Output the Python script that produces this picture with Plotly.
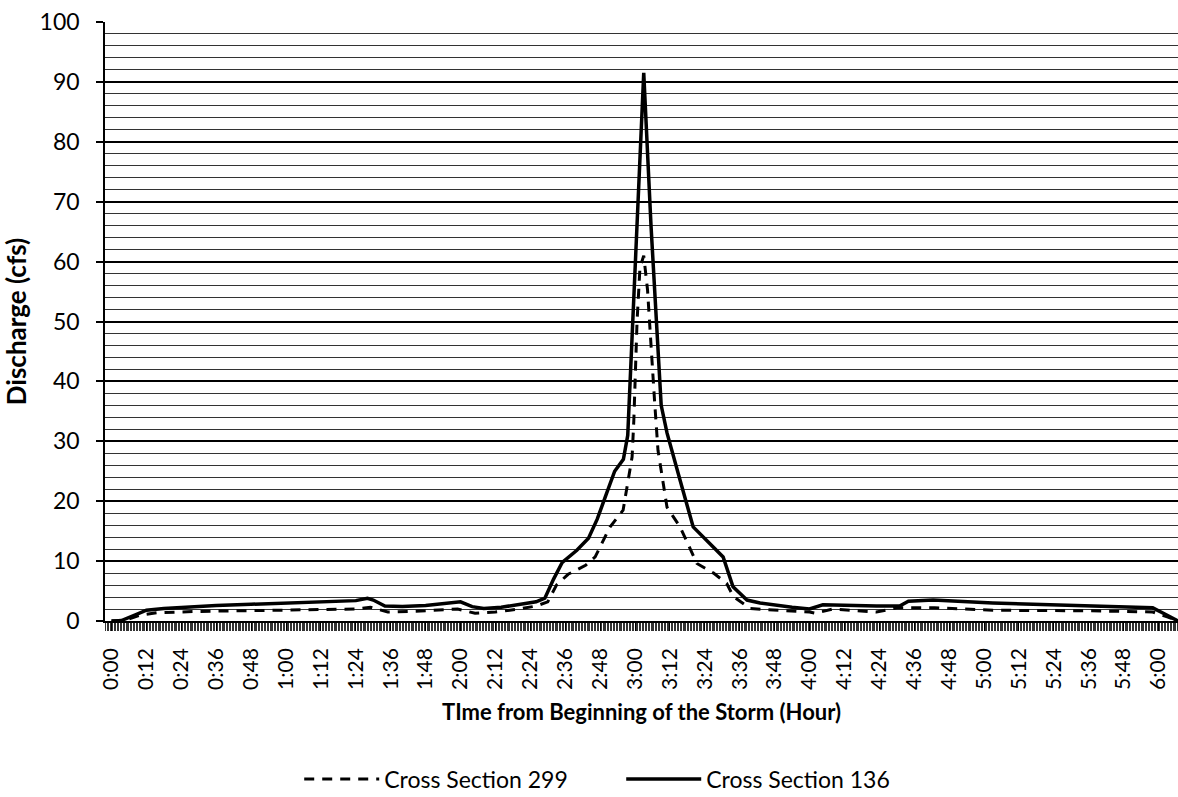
import plotly.graph_objects as go

# Discharge hydrographs; time in minutes from the beginning of the storm
t_136 = [0, 3, 8, 12, 18, 24, 36, 48, 60, 72, 84, 88, 90, 94, 100, 108, 116, 120,
         124, 128, 134, 140, 146, 149, 152, 155, 160, 164, 167, 170, 173, 176, 177.5,
         183, 185.5, 189, 191, 195.5, 200, 206.8, 210.3, 213.7, 218.5, 223, 230, 234,
         240, 244.6, 263, 271, 274, 282.5, 303, 337.5, 358, 362, 366.7]
q_136 = [0, 0, 1.0, 1.8, 2.1, 2.3, 2.6, 2.8, 3.0, 3.2, 3.4, 3.8, 3.5, 2.5, 2.4, 2.6, 3.0, 3.2,
         2.4, 2.1, 2.3, 2.7, 3.2, 3.8, 7.0, 9.8, 11.8, 13.8, 17.0, 21.0, 25.0, 27.0, 31.0,
         91.5, 66.0, 36.0, 31.4, 23.5, 15.7, 12.4, 10.7, 5.7, 3.5, 3.0, 2.5, 2.3,
         2.0, 2.7, 2.5, 2.5, 3.3, 3.5, 3.0, 2.5, 2.2, 1.2, 0]

t_299 = [0, 5, 10, 16, 30, 60, 84, 89, 95, 108, 119, 125, 132, 140, 146, 150, 153, 157,
         160, 163, 166.3, 171.4, 175.9, 177.6, 179, 179.6, 180.7, 181.7, 183, 184.3,
         185.4, 186.7, 187.9, 191, 195.5, 201.3, 207, 211.5, 213.8, 219.6, 225, 229,
         240, 242, 248, 263, 270, 283, 303, 337, 358, 363, 366.7]
q_299 = [0, 0.2, 1.0, 1.4, 1.6, 1.8, 2.0, 2.3, 1.5, 1.7, 2.0, 1.3, 1.5, 2.0, 2.5, 3.2, 6.0, 7.8,
         8.6, 9.3, 10.7, 15.7, 18.5, 23.0, 27.4, 33.6, 50.0, 59.0, 61.0, 55.3,
         46.4, 36.9, 28.5, 19.0, 15.7, 9.6, 8.0, 6.3, 4.1, 2.1, 1.9, 1.8,
         1.5, 1.3, 2.0, 1.5, 2.2, 2.2, 1.8, 1.7, 1.5, 0.7, 0]

tick_minutes = [0, 12, 24, 36, 48, 60, 72, 84, 96, 108, 120, 132, 144, 156, 168, 180,
                192, 204, 216, 228, 240, 252, 264, 276, 288, 300, 312, 324, 336, 348, 360]
tick_labels = ["0:00", "0:12", "0:24", "0:36", "0:48", "1:00", "1:12", "1:24", "1:36",
               "1:48", "2:00", "2:12", "2:24", "2:36", "2:48", "3:00", "3:12", "3:24",
               "3:36", "3:48", "4:00", "4:12", "4:24", "4:36", "4:48", "5:00", "5:12",
               "5:24", "5:36", "5:48", "6:00"]

FONT = "Lato"

fig = go.Figure()
fig.add_trace(go.Scatter(
    x=t_299, y=q_299, name="Cross Section 299", mode="lines",
    line=dict(color="black", width=3, dash="10px,8px"),
))
fig.add_trace(go.Scatter(
    x=t_136, y=q_136, name="Cross Section 136", mode="lines",
    line=dict(color="black", width=3.5),
))

fig.update_layout(
    width=1178, height=797,
    margin=dict(l=105, r=0, t=22, b=176, autoexpand=False),
    paper_bgcolor="white", plot_bgcolor="white",
    font=dict(family=FONT, color="black", size=21),
    showlegend=True,
    legend=dict(orientation="h", x=0.181, xanchor="left", y=-0.264, yanchor="middle",
                font=dict(family=FONT, size=23), itemwidth=75,
                entrywidth=232, entrywidthmode="pixels",
                bgcolor="rgba(0,0,0,0)"),
)

fig.update_xaxes(
    range=[-2.24, 366.7], automargin=False,
    tickmode="array", tickvals=tick_minutes, ticktext=tick_labels, tickangle=-90,
    ticks="outside", ticklen=8, tickwidth=1, tickcolor="black",
    tickfont=dict(family=FONT, size=21),
    ticklabelstandoff=9,
    showline=True, linecolor="black", linewidth=1.5,
    showgrid=False, zeroline=False,
    minor=dict(ticks="outside", tick0=0, dtick=0.5, ticklen=8, tickwidth=1, tickcolor="#333"),
    title=dict(text="<b>TIme from Beginning of the Storm (Hour)</b>",
               font=dict(family=FONT, size=22), standoff=16),
)

fig.update_yaxes(
    range=[0, 100], tick0=0, dtick=10, automargin=False,
    ticks="outside", ticklen=7, tickwidth=1.5, tickcolor="black",
    tickfont=dict(family=FONT, size=23),
    ticklabelstandoff=12,
    showline=True, linecolor="black", linewidth=1.5,
    showgrid=True, gridcolor="#000", gridwidth=1.5, zeroline=False,
    minor=dict(tick0=0, dtick=2, showgrid=True, gridcolor="#333", gridwidth=1.2),
    title=dict(text="<b>Discharge (cfs)</b>", font=dict(family=FONT, size=26), standoff=6),
)

fig.write_html("out.html")
